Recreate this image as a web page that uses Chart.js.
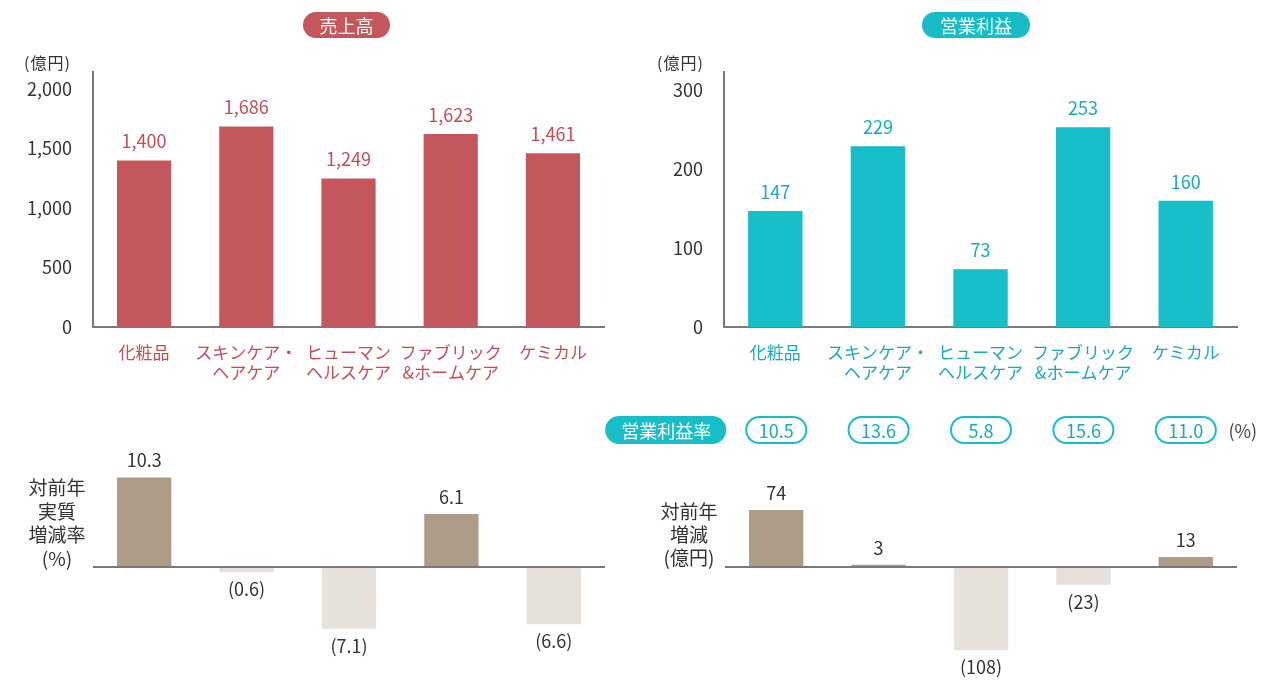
<!DOCTYPE html>
<html lang="ja">
<head>
<meta charset="utf-8">
<script src="https://cdn.jsdelivr.net/npm/chart.js@4/dist/chart.umd.min.js"></script>
<style>
  body { margin: 0; width: 1280px; height: 689px; background: #fff; position: relative; overflow: hidden; font-family: 'Noto Sans CJK JP', sans-serif; color: #333; }
  canvas { position: absolute; }
  .badge { position: absolute; z-index: 1; height: 26px; line-height: 26px; border-radius: 13px; color: #fff; font-size: 18px; text-align: center; }
  .unit { position: absolute; z-index: 1; font-size: 16px; letter-spacing: 1px; color: #333; }
  .side { position: absolute; z-index: 1; width: 90px; font-size: 19px; text-align: center; color: #333; }
</style>
</head>
<body>
<div class="badge" style="left:303px;top:12px;width:87px;background:#c4575b">売上高</div>
<div class="badge" style="left:922px;top:12px;width:108px;background:#17bcc6">営業利益</div>
<div class="unit" style="left:24px;top:50px">(億円)</div>
<div class="unit" style="left:657px;top:50px">(億円)</div>
<div class="side" style="left:12px;top:475px;line-height:23.7px">対前年<br>実質<br>増減率<br>(%)</div>
<div class="side" style="left:644px;top:499px;line-height:23px">対前年<br>増減<br>(億円)</div>
<script>
const FONT = "'Noto Sans CJK JP', sans-serif"
const AXIS = '#7a7a7a'
const RED = '#c4575b'
const RED_TEXT = '#c24e55'
const TEAL = '#17bec7'
const TEAL_TEXT = '#19aab5'
const UP = '#ad9d88'
const DOWN = '#e6e1db'

// Values
const categories = [
  ['化粧品'],
  ['スキンケア・', 'ヘアケア'],
  ['ヒューマン', 'ヘルスケア'],
  ['ファブリック', '&ホームケア'],
  ['ケミカル']
]
const sales = [1400, 1686, 1249, 1623, 1461]
const salesTicks = [0, 500, 1000, 1500, 2000]
const profit = [147, 229, 73, 253, 160]
const profitTicks = [0, 100, 200, 300]
const salesGrowth = [10.3, -0.6, -7.1, 6.1, -6.6]
const profitChange = [74, 3, -108, -23, 13]
const margins = [10.5, 13.6, 5.8, 15.6, 11.0]

Chart.defaults.font.family = FONT

function makeCanvas (left, top, width, height) {
  const canvas = document.createElement('canvas')
  canvas.width = width
  canvas.height = height
  canvas.style.left = left + 'px'
  canvas.style.top = top + 'px'
  canvas.style.width = width + 'px'
  canvas.style.height = height + 'px'
  document.body.appendChild(canvas)
  return canvas
}

const valueLabels = {
  id: 'valueLabels',
  afterDatasetsDraw (chart, args, opts) {
    const { ctx } = chart
    const values = chart.data.datasets[0].data
    ctx.save()
    ctx.font = `${opts.size}px ${FONT}`
    ctx.textAlign = 'center'
    ctx.textBaseline = 'middle'
    ctx.fillStyle = opts.color
    chart.getDatasetMeta(0).data.forEach((bar, i) => {
      const v = values[i]
      const y = v >= 0 ? bar.y - opts.gap : bar.y + opts.gap
      ctx.fillText(opts.format(v), bar.x, y)
    })
    ctx.restore()
  }
}

const marginPills = {
  id: 'marginPills',
  afterDraw (chart) {
    const { ctx } = chart
    const xs = chart.scales.x
    const cy = 30
    ctx.save()
    ctx.font = `18px ${FONT}`
    ctx.textAlign = 'center'
    ctx.textBaseline = 'middle'
    ctx.lineWidth = 2
    margins.forEach((m, i) => {
      const cx = xs.getPixelForValue(i)
      ctx.beginPath()
      ctx.roundRect(cx - 30, cy - 13, 60, 26, 13)
      ctx.strokeStyle = TEAL
      ctx.stroke()
      ctx.fillStyle = TEAL_TEXT
      ctx.fillText(m.toFixed(1), cx, cy + 1)
    })
    const first = xs.getPixelForValue(0)
    ctx.beginPath()
    ctx.roundRect(first - 171, cy - 14, 121, 28, 14)
    ctx.fillStyle = TEAL
    ctx.fill()
    ctx.fillStyle = '#fff'
    ctx.fillText('営業利益率', first - 110, cy + 1)
    ctx.fillStyle = '#444'
    ctx.fillText('(%)', xs.getPixelForValue(margins.length - 1) + 57, cy + 1)
    ctx.restore()
  }
}

function topChart (canvas, values, ticks, max, color, textColor, yWidth, padRight) {
  return new Chart(canvas, {
    type: 'bar',
    data: {
      labels: categories,
      datasets: [{ data: values, backgroundColor: color, barPercentage: 0.53, categoryPercentage: 1 }]
    },
    options: {
      responsive: false,
      animation: false,
      devicePixelRatio: 1,
      layout: { padding: { top: 72, right: padRight, left: 0, bottom: 0 } },
      plugins: {
        legend: { display: false },
        tooltip: { enabled: false },
        valueLabels: { size: 18, gap: 19, color: textColor, format: v => v.toLocaleString('en-US') }
      },
      scales: {
        x: {
          grid: { display: false, drawTicks: false },
          border: { color: AXIS, width: 2 },
          ticks: { color: textColor, font: { size: 17 }, padding: 15, maxRotation: 0, autoSkip: false },
          afterFit: s => { s.height = 73 }
        },
        y: {
          min: 0,
          max,
          grid: { display: false, drawTicks: false },
          border: { color: AXIS, width: 2 },
          afterBuildTicks: s => { s.ticks = ticks.map(value => ({ value })) },
          ticks: { color: '#333', font: { size: 18 }, padding: 21, callback: v => v.toLocaleString('en-US') },
          afterFit: s => { s.width = yWidth }
        }
      }
    },
    plugins: [valueLabels]
  })
}

function changeChart (canvas, values, min, max, padding, format, extra) {
  return new Chart(canvas, {
    type: 'bar',
    data: {
      labels: categories,
      datasets: [{
        data: values,
        backgroundColor: values.map(v => v >= 0 ? UP : DOWN),
        barPercentage: 0.53,
        categoryPercentage: 1
      }]
    },
    options: {
      responsive: false,
      animation: false,
      devicePixelRatio: 1,
      layout: { padding },
      plugins: {
        legend: { display: false },
        tooltip: { enabled: false },
        valueLabels: { size: 18, gap: 17, color: '#333', format }
      },
      scales: {
        x: { display: false },
        y: {
          min,
          max,
          z: 1,
          grid: { drawTicks: false, color: AXIS, lineWidth: 2 },
          border: { display: false },
          ticks: { display: false },
          afterBuildTicks: s => { s.ticks = [{ value: 0 }] },
          afterFit: s => { s.width = 0 }
        }
      }
    },
    plugins: [valueLabels].concat(extra || [])
  })
}

const paren = (v, text) => v < 0 ? `(${text})` : text

topChart(makeCanvas(0, 0, 640, 400), sales, salesTicks, 2143, RED, RED_TEXT, 93, 36)
topChart(makeCanvas(640, 0, 640, 400), profit, profitTicks, 323, TEAL, TEAL_TEXT, 84, 43)

changeChart(makeCanvas(0, 450, 640, 239), salesGrowth, -10.71, 12.33,
  { left: 93, right: 35, top: 10, bottom: 29 },
  v => paren(v, Math.abs(v).toFixed(1)))

changeChart(makeCanvas(580, 400, 700, 289), profitChange, -146.6, 138.8,
  { left: 145, right: 43, top: 60, bottom: 9 },
  v => paren(v, String(Math.abs(v))), [marginPills])
</script>
</body>
</html>
